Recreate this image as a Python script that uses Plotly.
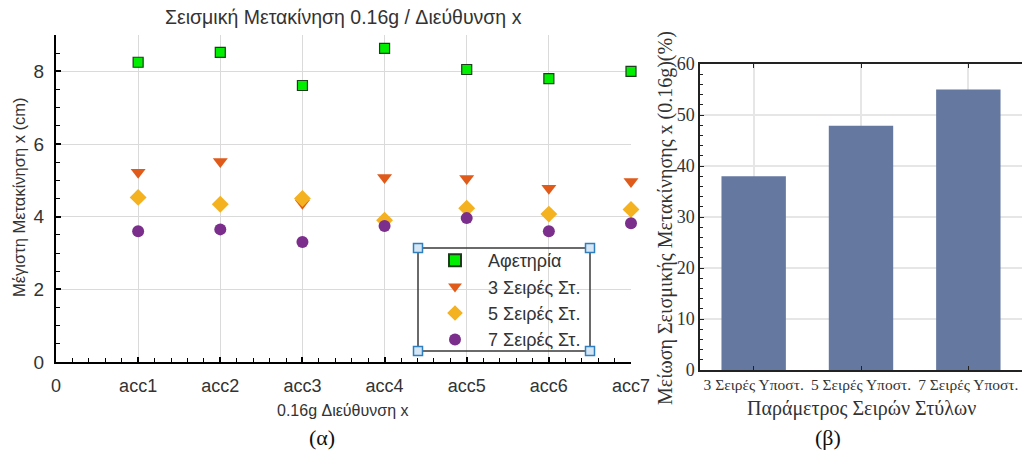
import plotly.graph_objects as go

# ---------------- data ----------------
accel_labels = ["acc1", "acc2", "acc3", "acc4", "acc5", "acc6", "acc7"]
accel_pos = [1, 2, 3, 4, 5, 6, 7]
baseline = [8.25, 8.52, 7.61, 8.63, 8.05, 7.80, 8.00]
rows3 = [5.22, 5.52, 4.37, 5.08, 5.05, 4.78, 4.97]
rows5 = [4.53, 4.34, 4.50, 3.90, 4.23, 4.07, 4.20]
rows7 = [3.60, 3.65, 3.30, 3.74, 3.96, 3.60, 3.82]
series_names = ["Αφετηρία", "3 Σειρές Στ.", "5 Σειρές Στ.", "7 Σειρές Στ."]

bar_categories = ["3 Σειρές Υποστ.", "5 Σειρές Υποστ.", "7 Σειρές Υποστ."]
bar_values = [38.0, 47.9, 55.0]

W, H = 1022, 450
SANS = "Liberation Sans, Arial, sans-serif"
SERIF = "Liberation Serif, Times New Roman, serif"

fig = go.Figure()

styles = [
    dict(symbol="square", size=10, color="#00ee00", line=dict(color="#1d3d1d", width=1.2)),
    dict(symbol="triangle-down", size=13, color="#e05a1a", line=dict(width=0)),
    dict(symbol="diamond", size=13, color="#f4b120", line=dict(width=0)),
    dict(symbol="circle", size=12, color="#7b2e8c", line=dict(width=0)),
]
for name, vals, st in zip(series_names, [baseline, rows3, rows5, rows7], styles):
    fig.add_trace(go.Scatter(
        x=accel_pos, y=vals, mode="markers", name=name, marker=st,
        xaxis="x", yaxis="y", cliponaxis=False, legendgroup=name,
    ))

fig.add_trace(go.Bar(
    x=bar_categories, y=bar_values, marker=dict(color="#6478a0", line=dict(width=0)),
    width=0.6, xaxis="x2", yaxis="y2", showlegend=False,
))

def px_x(p):
    return p / W

def px_y(p):
    return 1 - p / H

grid_l = "#dadada"
grid_r = "#e6e6e6"

fig.update_layout(
    width=W, height=H,
    margin=dict(l=0, r=0, t=0, b=0, autoexpand=False),
    paper_bgcolor="white", plot_bgcolor="white",
    showlegend=True,
    legend=dict(
        x=px_x(422), y=px_y(242), xanchor="left", yanchor="top",
        bgcolor="rgba(0,0,0,0)", borderwidth=0,
        font=dict(family=SANS, size=18, color="#333333"),
        tracegroupgap=0, itemsizing="constant", itemwidth=56,
    ),
    xaxis=dict(
        domain=[px_x(56), px_x(631)], range=[0, 7], automargin=False,
        tickvals=[0] + accel_pos, ticktext=["0"] + accel_labels,
        showgrid=True, gridcolor=grid_l, gridwidth=1, zeroline=False,
        showline=True, linecolor="black", linewidth=2,
        ticks="inside", ticklen=5, tickcolor="black", tickwidth=1.5,
        minor=dict(dtick=0.2, ticks="inside", ticklen=4, tickcolor="black", tickwidth=1, showgrid=False),
        tickfont=dict(family=SANS, size=18, color="#333333"),
        ticklabelstandoff=6,
        anchor="y",
    ),
    yaxis=dict(
        domain=[px_y(362), px_y(35)], range=[0, 9], automargin=False,
        tickvals=[0, 2, 4, 6, 8],
        showgrid=True, gridcolor=grid_l, gridwidth=1, zeroline=False,
        showline=True, linecolor="black", linewidth=2,
        ticks="inside", ticklen=5, tickcolor="black", tickwidth=1.5,
        minor=dict(dtick=0.5, ticks="inside", ticklen=4, tickcolor="black", tickwidth=1, showgrid=False),
        tickfont=dict(family=SANS, size=19, color="#333333"),
        ticklabelstandoff=6,
        anchor="x",
    ),
    xaxis2=dict(
        domain=[px_x(700), 1.0], type="category", range=[-0.5, 2.5], automargin=False,
        showgrid=True, gridcolor=grid_r, gridwidth=1.5, zeroline=False,
        showline=True, linecolor="#222222", linewidth=1.5, mirror="ticks",
        ticks="inside", ticklen=4, tickcolor="#222222", tickwidth=1.2,
        tickfont=dict(family=SERIF, size=15.5, color="#333333"),
        anchor="y2",
    ),
    yaxis2=dict(
        domain=[px_y(370), px_y(64)], range=[0, 60], automargin=False,
        tickvals=[0, 10, 20, 30, 40, 50, 60],
        showgrid=True, gridcolor=grid_r, gridwidth=1.5, zeroline=False,
        showline=True, linecolor="#222222", linewidth=1.5, mirror=False,
        ticks="inside", ticklen=4, tickcolor="#222222", tickwidth=1.2,
        minor=dict(dtick=2, ticks="inside", ticklen=3, tickcolor="#222222", tickwidth=1, showgrid=False),
        tickfont=dict(family=SERIF, size=18, color="#333333"),
        anchor="x2",
    ),
    yaxis3=dict(
        overlaying="y2", side="right", anchor="x2", range=[0, 60], automargin=False,
        tickvals=[10, 20, 30, 40, 50], showticklabels=False,
        showgrid=False, zeroline=False, showline=False,
        ticks="inside", ticklen=4, tickcolor="#222222", tickwidth=1.2,
    ),
)

annotations = [
    dict(text="Σεισμική Μετακίνηση 0.16g / Διεύθυνση x", x=px_x(343), y=px_y(17),
         font=dict(family=SANS, size=19.5, color="#333333")),
    dict(text="Μέγιστη Μετακίνηση x (cm)", x=px_x(19), y=px_y(197), textangle=-90,
         font=dict(family=SANS, size=16.5, color="#333333")),
    dict(text="0.16g Διεύθυνση x", x=px_x(342), y=px_y(410),
         font=dict(family=SANS, size=16, color="#333333")),
    dict(text="(α)", x=px_x(322), y=px_y(437), font=dict(family=SERIF, size=22, color="#111111")),
    dict(text="Μείωση Σεισμικής Μετακίνησης x (0.16g)(%)", x=px_x(665), y=px_y(218), textangle=-90,
         font=dict(family=SERIF, size=20, color="#333333")),
    dict(text="Παράμετρος Σειρών Στύλων", x=px_x(861), y=px_y(408),
         font=dict(family=SERIF, size=20, color="#333333")),
    dict(text="(β)", x=px_x(828), y=px_y(437), font=dict(family=SERIF, size=22, color="#111111")),
]
for a in annotations:
    a.update(xref="paper", yref="paper", showarrow=False, xanchor="center", yanchor="middle")
    fig.add_annotation(**a)

# legend frame and selection handles
lx0, lx1, ly0, ly1 = 418, 590, 248, 351
fig.add_shape(type="rect", xref="paper", yref="paper",
              x0=px_x(lx0), x1=px_x(lx1), y0=px_y(ly1), y1=px_y(ly0),
              line=dict(color="#3a3a3a", width=1.5), fillcolor="rgba(0,0,0,0)")
hs = 4.5
for cx in (lx0, lx1):
    for cy in (ly0, ly1):
        fig.add_shape(type="rect", xref="paper", yref="paper",
                      x0=px_x(cx - hs), x1=px_x(cx + hs), y0=px_y(cy + hs), y1=px_y(cy - hs),
                      line=dict(color="#2f7fc0", width=1.5), fillcolor="#d6e6f4")

fig.write_html(
    "out.html",
    config={"displayModeBar": False},
    post_script="document.body.style.margin='0';document.body.style.padding='0';document.body.style.overflow='hidden';",
)
